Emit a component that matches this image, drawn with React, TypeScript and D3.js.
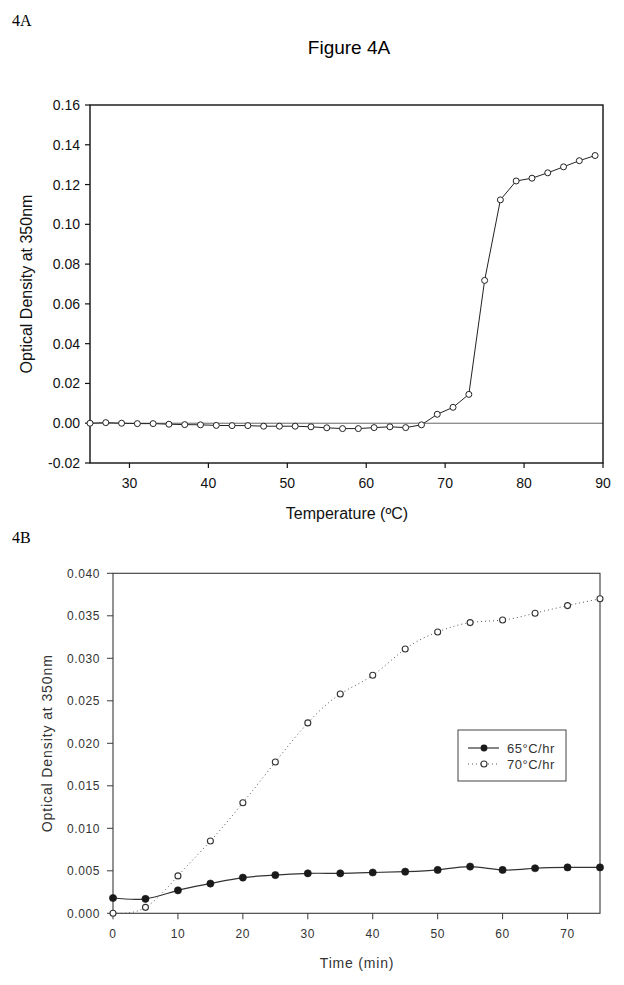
import React from "react";
import * as d3 from "d3";

// ---- Figure 4A data ----
const tempC = [25, 27, 29, 31, 33, 35, 37, 39, 41, 43, 45, 47, 49, 51, 53, 55, 57, 59, 61, 63, 65, 67, 69, 71, 73, 75, 77, 79, 81, 83, 85, 87, 89];
const odA = [0.0, 0.0003, 0.0, -0.0002, -0.0002, -0.0005, -0.0007, -0.0008, -0.0011, -0.0012, -0.0012, -0.0015, -0.0015, -0.0015, -0.0018, -0.0023, -0.0027, -0.0027, -0.0022, -0.0018, -0.0022, -0.0008, 0.0045, 0.008, 0.0145, 0.0718, 0.1123, 0.1218, 0.1232, 0.1259, 0.1289, 0.132, 0.1346];
const xTicksA = [30, 40, 50, 60, 70, 80, 90];
const yTicksA = [-0.02, 0.0, 0.02, 0.04, 0.06, 0.08, 0.1, 0.12, 0.14, 0.16];

// ---- Figure 4B data ----
const timeMin = [0, 5, 10, 15, 20, 25, 30, 35, 40, 45, 50, 55, 60, 65, 70, 75];
const od65 = [0.0018, 0.0017, 0.0027, 0.0035, 0.0042, 0.0045, 0.0047, 0.0047, 0.0048, 0.0049, 0.0051, 0.0055, 0.0051, 0.0053, 0.0054, 0.0054];
const od70 = [0.0, 0.0007, 0.0044, 0.0085, 0.013, 0.0178, 0.0224, 0.0258, 0.028, 0.0311, 0.0331, 0.0342, 0.0345, 0.0353, 0.0362, 0.037];
const xTicksB = [0, 10, 20, 30, 40, 50, 60, 70];
const yTicksB = [0.0, 0.005, 0.01, 0.015, 0.02, 0.025, 0.03, 0.035, 0.04];
const seriesNames = ["65°C/hr", "70°C/hr"];

const SANS = "Arial, 'Liberation Sans', Helvetica, sans-serif";
const SERIF = "'Times New Roman', 'Liberation Serif', serif";

export default function App() {
  // Panel A scales
  const xA = d3.scaleLinear().domain([25, 90]).range([90, 603]);
  const yA = d3.scaleLinear().domain([-0.02, 0.16]).range([463, 105]);
  const lineA = d3
    .line<number>()
    .x((_, i) => xA(tempC[i]))
    .y((d) => yA(d))
    .curve(d3.curveLinear);

  // Panel B scales
  const xB = d3.scaleLinear().domain([0, 75]).range([113, 600]);
  const yB = d3.scaleLinear().domain([0, 0.04]).range([913.3, 573.3]);
  const lineB = d3
    .line<number>()
    .x((_, i) => xB(timeMin[i]))
    .y((d) => yB(d))
    .curve(d3.curveNatural);

  const colA = "#111";
  const colB = "#3a3a3a";

  return (
    <svg
      width={624}
      height={985}
      style={{ position: "absolute", left: 0, top: 0, background: "#fff" }}
      xmlns="http://www.w3.org/2000/svg"
    >
      <rect x={0} y={0} width={624} height={985} fill="#fff" />
      <defs>
        <clipPath id="clipB">
          <rect x={xB(0)} y={yB(0.04)} width={xB(75) - xB(0)} height={yB(0) - yB(0.04)} />
        </clipPath>
      </defs>

      {/* ---------- Panel A ---------- */}
      <text x={12} y={26} fontFamily={SERIF} fontSize={16} fill="#000">4A</text>
      <text x={349} y={54} fontFamily={SANS} fontSize={19} textAnchor="middle" fill="#000">Figure 4A</text>

      {/* zero line */}
      <line x1={xA(25)} x2={xA(90)} y1={yA(0)} y2={yA(0)} stroke="#555" strokeWidth={0.9} />

      {/* frame */}
      <rect x={xA(25)} y={yA(0.16)} width={xA(90) - xA(25)} height={yA(-0.02) - yA(0.16)} fill="none" stroke={colA} strokeWidth={1.4} />

      {/* y ticks */}
      {yTicksA.map((t) => (
        <g key={"ya" + t}>
          <line x1={xA(25) - 5} x2={xA(25)} y1={yA(t)} y2={yA(t)} stroke={colA} strokeWidth={1.2} />
          <text x={80} y={yA(t) + 5} fontFamily={SANS} fontSize={14} textAnchor="end" fill="#111">
            {t.toFixed(2)}
          </text>
        </g>
      ))}
      {/* x ticks */}
      {xTicksA.map((t) => (
        <g key={"xa" + t}>
          <line x1={xA(t)} x2={xA(t)} y1={yA(-0.02)} y2={yA(-0.02) + 5} stroke={colA} strokeWidth={1.2} />
          <text x={xA(t)} y={488} fontFamily={SANS} fontSize={14} textAnchor="middle" fill="#111">
            {t}
          </text>
        </g>
      ))}

      <text x={347} y={519} fontFamily={SANS} fontSize={16} textAnchor="middle" fill="#111">Temperature (ºC)</text>
      <text
        transform={`translate(32, ${(yA(0.16) + yA(-0.02)) / 2}) rotate(-90)`}
        fontFamily={SANS}
        fontSize={16}
        textAnchor="middle"
        fill="#111"
      >
        Optical Density at 350nm
      </text>

      <path d={lineA(odA) || ""} fill="none" stroke="#222" strokeWidth={1} />
      {odA.map((v, i) => (
        <circle key={"pa" + i} cx={xA(tempC[i])} cy={yA(v)} r={3} fill="#fff" stroke="#222" strokeWidth={1} />
      ))}

      {/* ---------- Panel B ---------- */}
      <text x={12} y={543} fontFamily={SERIF} fontSize={16} fill="#000">4B</text>

      <rect x={xB(0)} y={yB(0.04)} width={xB(75) - xB(0)} height={yB(0) - yB(0.04)} fill="none" stroke={colB} strokeWidth={1.1} />

      {yTicksB.map((t) => (
        <g key={"yb" + t}>
          <line x1={xB(0) - 6} x2={xB(0)} y1={yB(t)} y2={yB(t)} stroke={colB} strokeWidth={1} />
          <text x={100} y={yB(t) + 4.5} fontFamily={SANS} fontSize={12} letterSpacing={0.6} textAnchor="end" fill="#333">
            {t.toFixed(3)}
          </text>
        </g>
      ))}
      {xTicksB.map((t) => (
        <g key={"xb" + t}>
          <line x1={xB(t)} x2={xB(t)} y1={yB(0)} y2={yB(0) + 6} stroke={colB} strokeWidth={1} />
          <text x={xB(t)} y={938} fontFamily={SANS} fontSize={12} letterSpacing={0.6} textAnchor="middle" fill="#333">
            {t}
          </text>
        </g>
      ))}

      <text x={357} y={968} fontFamily={SANS} fontSize={14} letterSpacing={0.8} textAnchor="middle" fill="#333">Time (min)</text>
      <text
        transform={`translate(52, ${(yB(0) + yB(0.04)) / 2}) rotate(-90)`}
        fontFamily={SANS}
        fontSize={14}
        letterSpacing={0.9}
        textAnchor="middle"
        fill="#333"
      >
        Optical Density at 350nm
      </text>

      <g clipPath="url(#clipB)">
        <path d={lineB(od70) || ""} fill="none" stroke="#555" strokeWidth={1} strokeDasharray="1 3" />
        <path d={lineB(od65) || ""} fill="none" stroke="#333" strokeWidth={1.2} />
      </g>
      {od70.map((v, i) => (
        <circle key={"p70" + i} cx={xB(timeMin[i])} cy={yB(v)} r={3} fill="#fff" stroke="#333" strokeWidth={1.1} />
      ))}
      {od65.map((v, i) => (
        <circle key={"p65" + i} cx={xB(timeMin[i])} cy={yB(v)} r={3.6} fill="#1a1a1a" stroke="#1a1a1a" strokeWidth={0.6} />
      ))}

      {/* legend */}
      <rect x={458} y={730} width={108} height={51} fill="#fff" stroke="#444" strokeWidth={1} />
      <line x1={468} x2={499} y1={748} y2={748} stroke="#333" strokeWidth={1.2} />
      <circle cx={484} cy={748} r={3.4} fill="#1a1a1a" />
      <text x={507} y={752.5} fontFamily={SANS} fontSize={13} letterSpacing={0.5} fill="#333">{seriesNames[0]}</text>
      <line x1={468} x2={499} y1={764} y2={764} stroke="#555" strokeWidth={1} strokeDasharray="1 3" />
      <circle cx={484} cy={764} r={3} fill="#fff" stroke="#333" strokeWidth={1.1} />
      <text x={507} y={768.5} fontFamily={SANS} fontSize={13} letterSpacing={0.5} fill="#333">{seriesNames[1]}</text>
    </svg>
  );
}
